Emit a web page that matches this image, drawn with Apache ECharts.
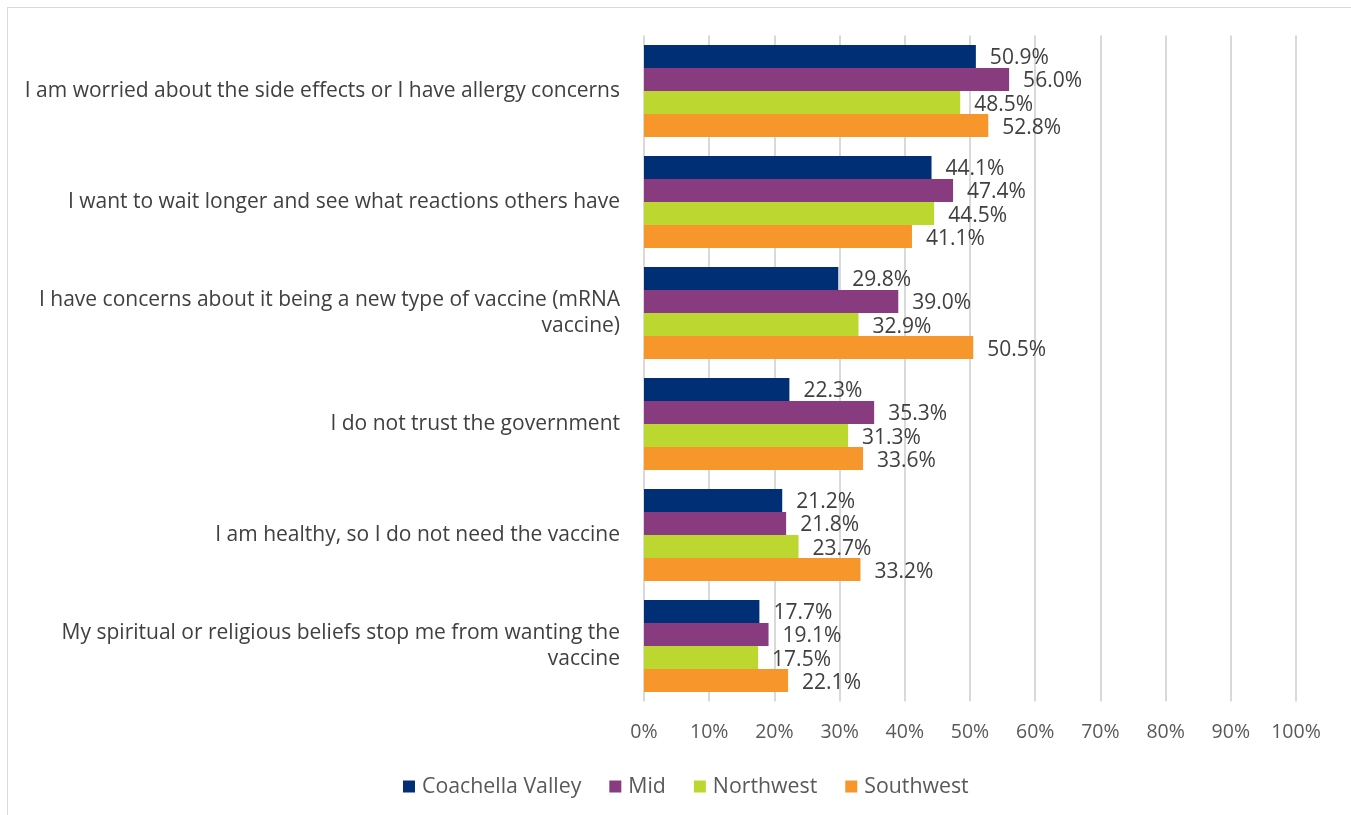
<!DOCTYPE html>
<html>
<head>
<meta charset="utf-8">
<script src="https://cdn.jsdelivr.net/npm/echarts@6/dist/echarts.min.js"></script>
<style>
  html, body { margin: 0; padding: 0; background: #fff; overflow: hidden; }
  #frame { position: absolute; left: 7px; top: 7px; width: 1400px; height: 900px; border: 1px solid #d9d9d9; box-sizing: border-box; }
  #chart { position: absolute; left: 0; top: 0; width: 1351px; height: 815px; }
</style>
</head>
<body>
<div id="frame"></div>
<div id="chart"></div>
<script>
// Reasons for not wanting the vaccine, by region (percent of respondents)
const categories = [
  "I am worried about the side effects or I have allergy concerns",
  "I want to wait longer and see what reactions others have",
  "I have concerns about it being a new type of vaccine (mRNA\nvaccine)",
  "I do not trust the government",
  "I am healthy, so I do not need the vaccine",
  "My spiritual or religious beliefs stop me from wanting the\nvaccine"
];
const seriesNames = ["Coachella Valley", "Mid", "Northwest", "Southwest"];
const coachellaValley = [50.9, 44.1, 29.8, 22.3, 21.2, 17.7];
const mid = [56.0, 47.4, 39.0, 35.3, 21.8, 19.1];
const northwest = [48.5, 44.5, 32.9, 31.3, 23.7, 17.5];
const southwest = [52.8, 41.1, 50.5, 33.6, 33.2, 22.1];
const colors = ["#002F75", "#893B80", "#BDD731", "#F7962B"];

const FONT = "Open Sans";
const values = [coachellaValley, mid, northwest, southwest];

const chart = echarts.init(document.getElementById("chart"), null, { renderer: "canvas" });
chart.setOption({
  animation: false,
  textStyle: { fontFamily: FONT },
  grid: { left: 644, right: 55, top: 35.5, bottom: 113.5, containLabel: false },
  legend: {
    bottom: 13,
    left: 398,
    itemWidth: 12,
    itemHeight: 12,
    itemGap: 28,
    icon: "rect",
    textStyle: { color: "#595959", fontSize: 21.3, fontFamily: FONT, padding: [0, 0, 0, 2] },
    data: seriesNames
  },
  xAxis: {
    type: "value",
    min: 0,
    max: 100,
    interval: 10,
    axisLine: { show: false },
    axisTick: { show: false },
    splitLine: { lineStyle: { color: "#d9d9d9", width: 2 } },
    axisLabel: { formatter: "{value}%", color: "#595959", fontSize: 19.5, margin: 21, fontFamily: FONT }
  },
  yAxis: {
    type: "category",
    inverse: true,
    data: categories,
    axisLine: { show: false },
    axisTick: { show: false },
    axisLabel: { color: "#404040", fontSize: 21, margin: 24, lineHeight: 26, align: "right", fontFamily: FONT, padding: [3, 0, 0, 0] }
  },
  series: seriesNames.map((name, i) => ({
    name: name,
    type: "bar",
    data: values[i],
    barGap: "0%",
    barCategoryGap: "17%",
    itemStyle: { color: colors[i] },
    label: {
      show: true,
      position: "right",
      distance: 14,
      offset: [0, 2],
      formatter: p => p.value.toFixed(1) + "%",
      color: "#404040",
      fontSize: 21,
      fontFamily: FONT
    }
  }))
});
</script>
</body>
</html>
